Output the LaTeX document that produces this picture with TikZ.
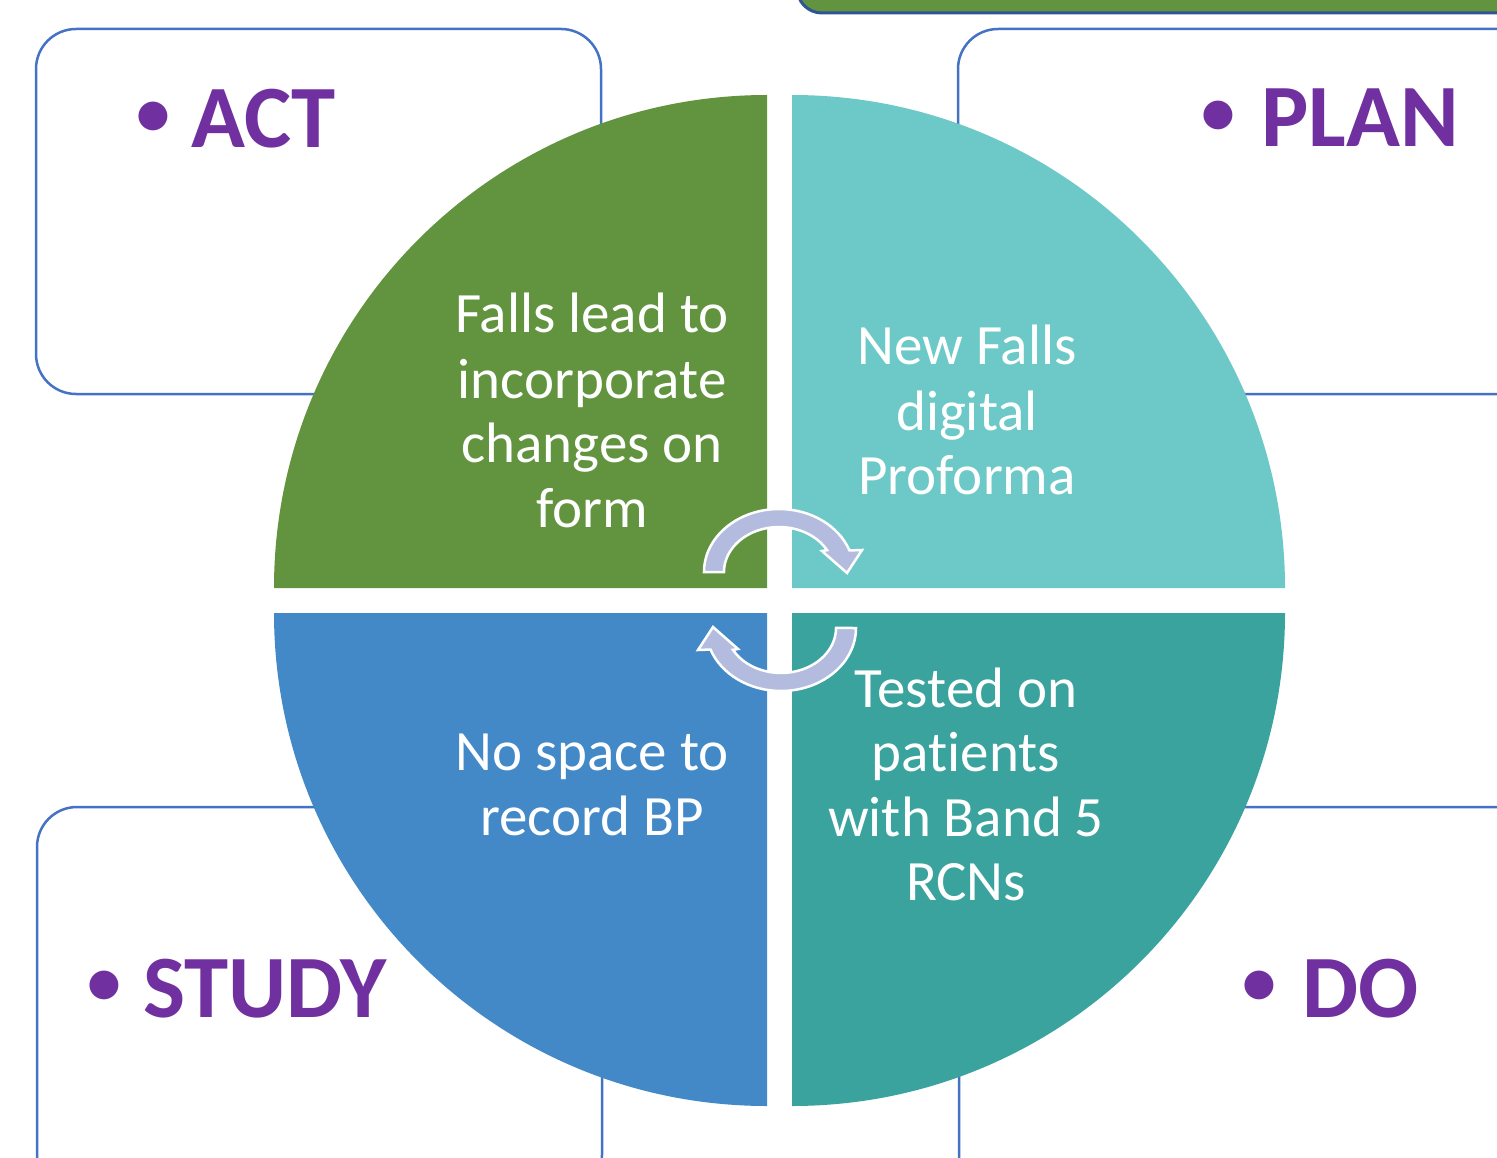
\documentclass[tikz,border=0pt]{standalone}
\usepackage{fontspec}
\setmainfont{Carlito}[RawFeature=-liga]
\definecolor{purp}{HTML}{7030A0}
\definecolor{boxblue}{HTML}{4472C4}
\definecolor{qgreen}{HTML}{62943F}
\definecolor{qlteal}{HTML}{6DC9C8}
\definecolor{qblue}{HTML}{4389C8}
\definecolor{qdteal}{HTML}{3AA39E}
\definecolor{arrlav}{HTML}{B3BCDF}
\definecolor{barblue}{HTML}{2F5597}
\tikzset{
  pdcabox/.style={draw=boxblue, line width=2.5pt, rounded corners=40pt},
  qtext/.style={text=white, font=\fontsize{57}{65}\selectfont, inner sep=0pt, anchor=base},
  lbl/.style={text=purp, font=\fontsize{89}{100}\selectfont\bfseries, inner sep=0pt, anchor=base west},
  bul/.style={text=purp, font=\fontsize{68}{80}\selectfont\bfseries, inner sep=0pt, anchor=center},
  cycarrow/.style={fill=arrlav, draw=white, line width=2.5pt, line join=miter}
}
\begin{document}
\begin{tikzpicture}[x=1pt,y=-1pt]
\useasboundingbox (0,0) rectangle (1497,1158);
\clip (0,0) rectangle (1497,1158);
\fill[white] (0,0) rectangle (1497,1158);

% top green bar
\draw[fill=qgreen, draw=barblue, line width=3pt, rounded corners=25pt] (797,-60) rectangle (1560,13);

% outer boxes
\draw[pdcabox] (36,29) rectangle (601,394);
\draw[pdcabox] (958,29) rectangle (1560,394);
\draw[pdcabox] (37,807) rectangle (602,1195);
\draw[pdcabox] (959,807) rectangle (1560,1195);

% quadrants
\fill[qgreen] (767,588) -- (274,588) arc[start angle=180, end angle=270, radius=493] -- cycle;
\fill[qlteal] (792,588) -- (792,95) arc[start angle=270, end angle=360, radius=493] -- cycle;
\fill[qdteal] (792,613) -- (1285,613) arc[start angle=0, end angle=90, radius=493] -- cycle;
\fill[qblue] (767,613) -- (767,1106) arc[start angle=90, end angle=180, radius=493] -- cycle;

% labels
\node[bul] (actb) at (153,119) {•};
\node[lbl] (act) at (191,148) {ACT};
\node[bul] (planb) at (1218,118) {•};
\node[lbl] (plan) at (1261,147) {PLAN};
\node[bul] (studyb) at (104,988) {•};
\node[lbl] (study) at (143,1017) {STUDY};
\node[bul] (dob) at (1259,988) {•};
\node[lbl] (do) at (1302,1017) {DO};

% quadrant texts
\node[qtext] (a1) at (592,333) {Falls lead to};
\node[qtext] (a2) at (592,398) {incorporate};
\node[qtext] (a3) at (592,462) {changes on};
\node[qtext] (a4) at (592,527) {form};

\node[qtext] (p1) at (967,365) {New Falls};
\node[qtext] (p2) at (967,430) {digital};
\node[qtext] (p3) at (967,494) {Proforma};

\node[qtext] (d1) at (966,707) {Tested on};
\node[qtext] (d2) at (966,771) {patients};
\node[qtext] (d3) at (966,836) {with Band 5};
\node[qtext] (d4) at (966,900) {RCNs};

\node[qtext] (s1) at (592,770) {No space to};
\node[qtext] (s2) at (592,835) {record BP};

% circular arrows
\draw[cycarrow] (704,572) arc[start angle=180, end angle=340, x radius=75, y radius=63]
  -- (862,550) -- (847,573) -- (822,551) -- (827.1,550.2)
  arc[start angle=331, end angle=180, x radius=55, y radius=45] -- cycle;
\begin{scope}[rotate around={180:(780,600)}]
\draw[cycarrow] (704,572) arc[start angle=180, end angle=340, x radius=75, y radius=63]
  -- (862,550) -- (847,573) -- (822,551) -- (827.1,550.2)
  arc[start angle=331, end angle=180, x radius=55, y radius=45] -- cycle;
\end{scope}
\end{tikzpicture}
\end{document}
